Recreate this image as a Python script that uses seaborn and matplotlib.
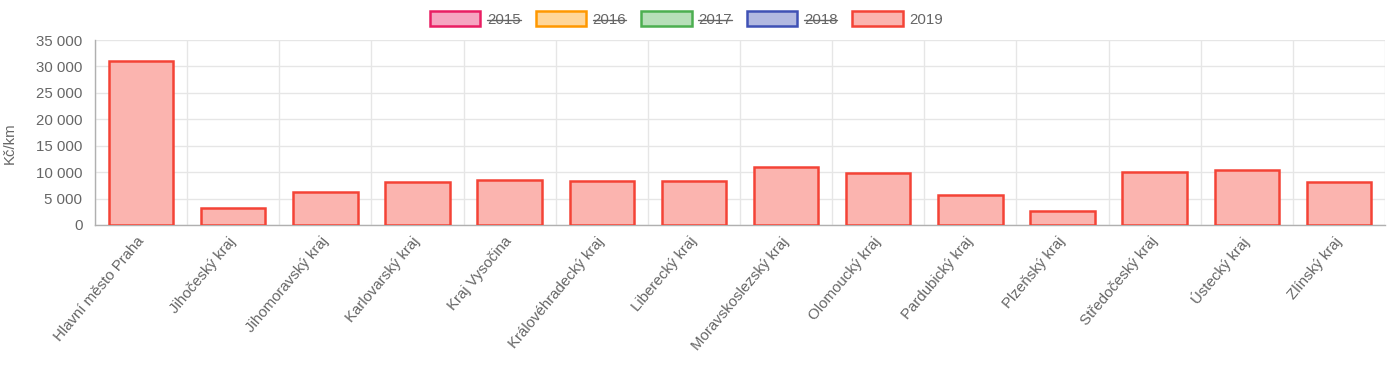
import numpy as np
import pandas as pd
import matplotlib
matplotlib.use("Agg")
import matplotlib.pyplot as plt
import seaborn as sns
from matplotlib.patches import Patch
from matplotlib.lines import Line2D
from matplotlib.ticker import FuncFormatter, MultipleLocator

# Data (Kč/km, 2019)
regions = [
    "Hlavní město Praha", "Jihočeský kraj", "Jihomoravský kraj", "Karlovarský kraj",
    "Kraj Vysočina", "Královéhradecký kraj", "Liberecký kraj", "Moravskoslezský kraj",
    "Olomoucký kraj", "Pardubický kraj", "Plzeňský kraj", "Středočeský kraj",
    "Ústecký kraj", "Zlínský kraj",
]
cost_2019 = [31000, 3150, 6250, 8150, 8600, 8350, 8350, 11000,
             9800, 5750, 2650, 10000, 10450, 8100]

years = ["2015", "2016", "2017", "2018", "2019"]
year_colors = ["#E91E63", "#FF9800", "#4CAF50", "#3F51B5", "#F44336"]
hidden_years = ["2015", "2016", "2017", "2018"]


def tint(hex_color, alpha=0.4):
    rgb = np.array(matplotlib.colors.to_rgb(hex_color))
    return tuple(rgb * alpha + (1 - alpha))


text_grey = "#666666"
grid_grey = "#e6e6e6"
fs = 10.8

sns.set_style("white")
plt.rcParams["font.family"] = ["Liberation Sans", "DejaVu Sans"]

fig = plt.figure(figsize=(13.87, 3.70), dpi=100)
ax = fig.add_axes([95 / 1387, 1 - 225 / 370, 1290 / 1387, 185 / 370])

df = pd.DataFrame({"Kraj": regions, "Kč/km": cost_2019})
sns.barplot(data=df, x="Kraj", y="Kč/km", color=tint(year_colors[-1]),
            edgecolor=year_colors[-1], linewidth=1.8, width=0.7,
            saturation=1, ax=ax, zorder=3)

ax.set_xlim(-0.5, len(regions) - 0.5)
ax.set_ylim(0, 35000)
ax.yaxis.set_major_locator(MultipleLocator(5000))
ax.yaxis.set_major_formatter(FuncFormatter(lambda v, p: f"{int(v):,}".replace(",", " ")))

# Grid lines between categories and on y ticks
ax.set_xticks(np.arange(-0.5, len(regions), 1), minor=True)
ax.grid(which="minor", axis="x", color=grid_grey, lw=1, zorder=0)
ax.grid(which="major", axis="y", color=grid_grey, lw=1, zorder=0)
ax.grid(which="major", axis="x", visible=False)
ax.set_axisbelow(True)

ax.tick_params(axis="x", which="minor", length=8.5, color=grid_grey, width=1)
ax.tick_params(axis="x", which="major", length=0, pad=10, labelsize=fs, labelcolor=text_grey)
ax.tick_params(axis="y", which="major", length=5, color=grid_grey, width=1, pad=4,
               labelsize=fs, labelcolor=text_grey)
ax.set_xticks(range(len(regions)))
ax.set_xticklabels(regions, rotation=50, ha="right", va="center", rotation_mode="anchor")

for side in ["top", "right"]:
    ax.spines[side].set_visible(False)
for side in ["left", "bottom"]:
    ax.spines[side].set_color("#b0b0b0")
    ax.spines[side].set_linewidth(1)

ax.set_xlabel("")
ax.set_ylabel("Kč/km", fontsize=fs, color=text_grey)
ax.yaxis.set_label_coords(-0.061, 0.44)

# Legend (hidden datasets crossed out)
handles = [Patch(facecolor=tint(c), edgecolor=c, linewidth=1.8) for c in year_colors]
leg = fig.legend(handles, years, loc="center", bbox_to_anchor=(0.495, 1 - 19 / 370),
                 ncol=5, frameon=False, fontsize=fs, labelcolor=text_grey,
                 handlelength=3.35, handleheight=1.15, handletextpad=0.45,
                 columnspacing=1.0)

fig.canvas.draw()
renderer = fig.canvas.get_renderer()
inv = fig.transFigure.inverted()
for t in leg.get_texts():
    if t.get_text() in hidden_years:
        bb = t.get_window_extent(renderer)
        ymid = (bb.y0 + bb.y1) / 2
        (x0, y0), (x1, _) = inv.transform([(bb.x0, ymid), (bb.x1, ymid)])
        fig.add_artist(Line2D([x0, x1], [y0, y0], transform=fig.transFigure,
                              color=text_grey, lw=1))

fig.savefig("out.png", dpi=100)
